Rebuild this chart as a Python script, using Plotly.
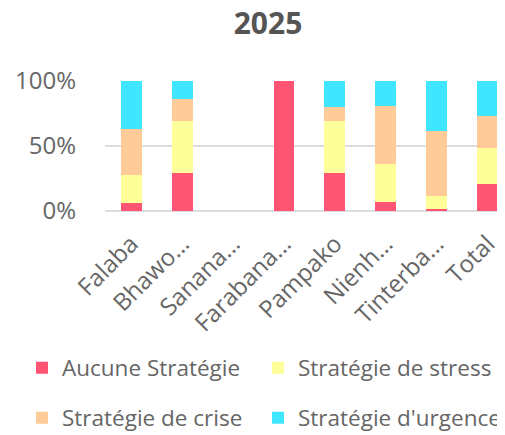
import plotly.graph_objects as go

categories = ["Falaba", "Bhawo…", "Sanana…", "Farabana…", "Pampako", "Nienh…", "Tinterba…", "Total"]
aucune = [6, 29.5, 0, 100, 29.5, 6.6, 1.5, 21]
stress = [21.7, 39.8, 0, 0, 39.8, 29.5, 10, 27.3]
crise = [35.7, 17.1, 0, 0, 10.5, 44.7, 50.1, 24.8]
urgence = [36.6, 13.6, 0, 0, 20.2, 19.2, 38.4, 26.9]

series = [
    ("Aucune Stratégie", aucune, "#FF5575", "legend"),
    ("Stratégie de stress", stress, "#FFFF99", "legend2"),
    ("Stratégie de crise", crise, "#FFCC99", "legend3"),
    ("Stratégie d'urgence", urgence, "#40E6FF", "legend4"),
]

fig = go.Figure()
for name, vals, color, lg in series:
    fig.add_trace(go.Bar(
        name=name, x=categories, y=vals, marker=dict(color=color, line=dict(width=0)),
        width=0.41, legend=lg, showlegend=True,
    ))

# The page body has an 8px margin, so the figure is sized to fill the rest of the window.
W, H = 497, 427
L, T, B = 97, 73, 224
plot_h = H - T - B
font_family = "Open Sans"
grey = "#666666"


def paper_y(fig_y):
    return (H - B - fig_y) / plot_h


def paper_x(fig_x):
    return (fig_x - L) / (W - L)


legend_common = dict(
    orientation="h", xref="paper", yref="paper", xanchor="left", yanchor="middle",
    font=dict(family=font_family, size=22.5, color=grey), itemwidth=30,
    bgcolor="rgba(0,0,0,0)",
)
fig.update_layout(
    width=W, height=H,
    showlegend=True,
    barmode="stack",
    margin=dict(l=L, r=0, t=T, b=B, autoexpand=False),
    paper_bgcolor="white", plot_bgcolor="white",
    font=dict(family=font_family, color=grey),
    title=dict(text="<b>2025</b>", x=260 / W, xanchor="center", xref="container",
               y=1 - 15 / H, yanchor="middle", yref="container",
               font=dict(family=font_family, size=30, color="#555555")),
    legend=dict(x=paper_x(14), y=paper_y(360), **legend_common),
    legend2=dict(x=paper_x(250), y=paper_y(360), **legend_common),
    legend3=dict(x=paper_x(14), y=paper_y(410), **legend_common),
    legend4=dict(x=paper_x(250), y=paper_y(410), **legend_common),
)
fig.update_xaxes(
    range=[-0.514, 7.34], tickangle=-45, showgrid=False, showline=False, zeroline=False,
    tickfont=dict(family=font_family, size=24, color=grey), ticks="", ticklabelstandoff=13,
    automargin=False,
)
fig.update_yaxes(
    range=[0, 100], tickvals=[0, 50, 100], ticktext=["0%", "50%", "100%"],
    showgrid=True, gridcolor="#DDDDDD", gridwidth=2, zeroline=True, zerolinecolor="#DDDDDD",
    zerolinewidth=2, showline=False, ticks="",
    tickfont=dict(family=font_family, size=24, color=grey), ticklabelstandoff=28,
    automargin=False,
)
fig.write_html("out.html")
